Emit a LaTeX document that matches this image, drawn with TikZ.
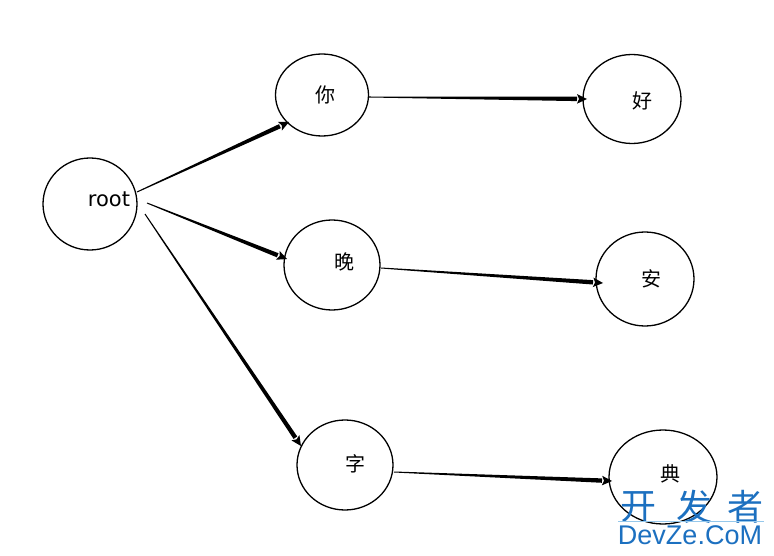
\documentclass[tikz,border=0pt]{standalone}
\usepackage{fontspec}
\setmainfont{DejaVu Sans}
\newfontfamily\cjk{Noto Sans CJK SC}
\newfontfamily\wmfont{Liberation Sans}
\usetikzlibrary{shapes.geometric,calc}
\definecolor{wmblue}{RGB}{28,112,192}
\definecolor{wmline}{RGB}{150,200,235}
\tikzset{
  circ/.style={draw, line width=1.3pt, ellipse, inner sep=0pt},
  lab/.style={font=\cjk\fontsize{20}{20}\selectfont, inner sep=0pt},
  wm/.style={text=wmblue, inner sep=0pt},
}
\newcommand\taperarrow[2]{%
  \coordinate (tmpc) at ($(#2)!10pt!(#1)$);
  \fill ($(#1)!0.5pt!90:(#2)$) -- ($(tmpc)!2.2pt!-90:(#1)$) -- ($(tmpc)!2.2pt!90:(#1)$) -- ($(#1)!0.5pt!-90:(#2)$) -- cycle;
  \fill (#2) -- ($(tmpc)!4.8pt!90:(#2)$) -- ($(#2)!8pt!(#1)$) -- ($(tmpc)!4.8pt!-90:(#2)$) -- cycle;
}
\begin{document}
\begin{tikzpicture}[x=1pt,y=-1pt]
\useasboundingbox (0,0) rectangle (774,556);
\fill[white] (0,0) rectangle (774,556);
% circles
\node[circ, minimum width=94pt, minimum height=92pt] (root) at (90,204) {};
\node[circ, minimum width=93pt, minimum height=82pt] (ni) at (322,95) {};
\node[circ, minimum width=98pt, minimum height=89pt] (hao) at (632,99) {};
\node[circ, minimum width=96pt, minimum height=90pt] (wan) at (332,265) {};
\node[circ, minimum width=98pt, minimum height=94pt] (an) at (645,279) {};
\node[circ, minimum width=96pt, minimum height=90pt] (zi) at (345,465) {};
\node[circ, minimum width=108pt, minimum height=94pt] (dian) at (663,477) {};
% labels
\node[inner sep=0pt, font=\fontsize{21}{21}\selectfont] (troot) at (109,199) {root};
\node[lab] (tni) at (325,95) {你};
\node[lab] (thao) at (642,101) {好};
\node[lab] (twan) at (344,262) {晚};
\node[lab] (tan) at (651,279) {安};
\node[lab] (tzi) at (355,464) {字};
\node[lab] (tdian) at (670,474) {典};
% connector ends
\coordinate (s1) at (137,192); \coordinate (e1) at (289,122);
\coordinate (s2) at (147,203); \coordinate (e2) at (287,259);
\coordinate (s3) at (145,214); \coordinate (e3) at (301,446);
\coordinate (s4) at (369,97);  \coordinate (e4) at (587,99);
\coordinate (s5) at (381,268); \coordinate (e5) at (603,283);
\coordinate (s6) at (394,472); \coordinate (e6) at (612,481);
\taperarrow{s1}{e1}
\taperarrow{s2}{e2}
\taperarrow{s3}{e3}
\taperarrow{s4}{e4}
\taperarrow{s5}{e5}
\taperarrow{s6}{e6}
% watermark
\node[wm, font=\cjk\fontsize{36}{36}\selectfont] (w1) at (638,507) {开};
\node[wm, font=\cjk\fontsize{36}{36}\selectfont] (w2) at (694,507) {发};
\node[wm, font=\cjk\fontsize{36}{36}\selectfont] (w3) at (745,507) {者};
\draw[wmline, line width=0.8pt] (618,521) -- (764,521);
\node[wm, font=\wmfont\fontsize{27}{27}\selectfont] (w4) at (690,535) {DevZe.CoM};
\end{tikzpicture}
\end{document}
